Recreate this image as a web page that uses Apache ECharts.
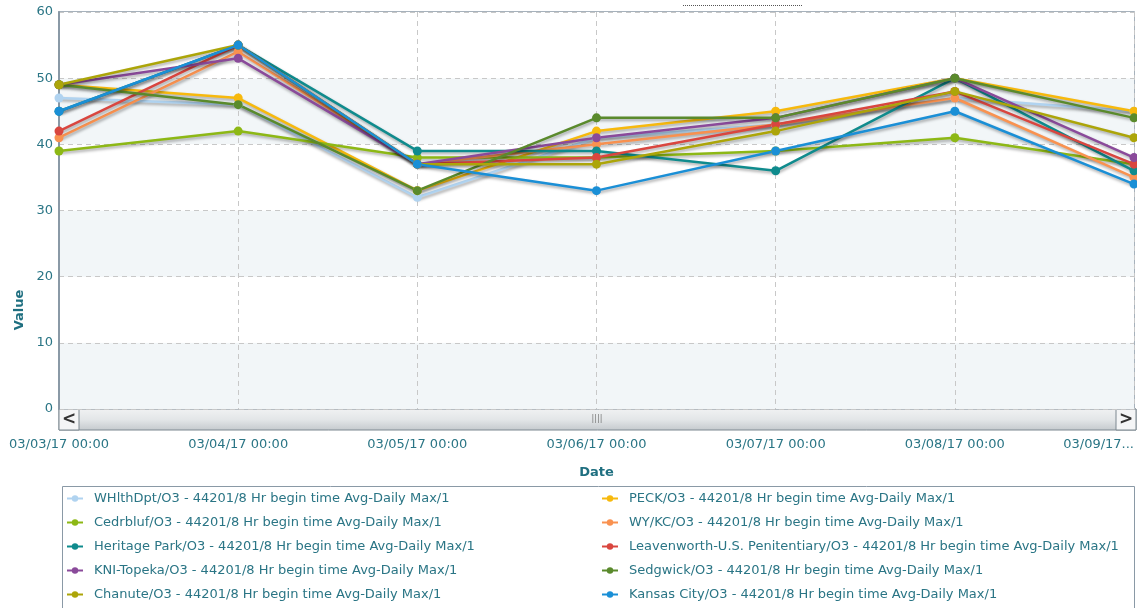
<!DOCTYPE html>
<html>
<head>
<meta charset="utf-8">
<title>O3 Daily Max</title>
<script src="https://cdn.jsdelivr.net/npm/echarts@6/dist/echarts.min.js"></script>
<style>
    html, body { margin: 0; padding: 0; background: #ffffff; }
    #chart-container { width: 1137px; height: 608px; }
</style>
</head>
<body>
<div id="chart-container"></div>
<script>
/**
 * data
 */
var dates = ['03/03/17 00:00', '03/04/17 00:00', '03/05/17 00:00', '03/06/17 00:00', '03/07/17 00:00', '03/08/17 00:00', '03/09/17 00:00'];
var suffix = '/O3 - 44201/8 Hr begin time Avg-Daily Max/1';

var whlthDpt    = [47, 46, 32, 41, 43, 47, 45];
var peck        = [49, 47, 33, 42, 45, 50, 45];
var cedrbluf    = [39, 42, 38, 38, 39, 41, 37];
var wyKc        = [41, 54, 37, 40, 43, 47, 35];
var heritage    = [45, 55, 39, 39, 36, 50, 36];
var leavenworth = [42, 55, 37, 38, 43, 48, 37];
var kniTopeka   = [49, 53, 37, 41, 44, 50, 38];
var sedgwick    = [49, 46, 33, 44, 44, 50, 44];
var chanute     = [49, 55, 37, 37, 42, 48, 41];
var kansasCity  = [45, 55, 37, 33, 39, 45, 34];

// series order (also drawing order)
var stations = ['WHlthDpt', 'PECK', 'Cedrbluf', 'WY/KC', 'Heritage Park', 'Leavenworth-U.S. Penitentiary', 'KNI-Topeka', 'Sedgwick', 'Chanute', 'Kansas City'];
var values = [whlthDpt, peck, cedrbluf, wyKc, heritage, leavenworth, kniTopeka, sedgwick, chanute, kansasCity];
var colors = ['#b0d3f0', '#f7b90d', '#8db815', '#f99250', '#0f8b8d', '#d9463f', '#8a4a9a', '#5a8a2c', '#aca509', '#1a8fd6'];

// legend columns
var leftColumn = ['WHlthDpt', 'Cedrbluf', 'Heritage Park', 'KNI-Topeka', 'Chanute'];
var rightColumn = ['PECK', 'WY/KC', 'Leavenworth-U.S. Penitentiary', 'Sedgwick', 'Kansas City'];

var yTicks = {min: 0, max: 60, interval: 10};

var textColor = '#2a7585';
var fontName = 'DejaVu Sans';

/**
 * build series
 */
var series = [];
for (var i = 0; i < stations.length; i++) {
    series.push({
        name: stations[i] + suffix,
        type: 'line',
        data: values[i],
        symbol: 'circle',
        symbolSize: 9,
        showAllSymbol: true,
        itemStyle: { color: colors[i] },
        lineStyle: {
            width: 2.5,
            color: colors[i],
            shadowColor: 'rgba(0,0,0,0.35)',
            shadowBlur: 3,
            shadowOffsetX: 1,
            shadowOffsetY: 2
        }
    });
}

/**
 * one legend per column
 */
function makeLegend(names, left) {
    return {
        left: left,
        top: 492,
        orient: 'vertical',
        padding: 0,
        itemGap: 11,
        itemWidth: 16,
        itemHeight: 8,
        data: names.map(function (n) { return n + suffix; }),
        textStyle: {
            color: textColor,
            fontSize: 13,
            fontFamily: fontName,
            padding: [0, 0, 0, 6]
        }
    };
}

var chart = echarts.init(document.getElementById('chart-container'));

var option = {
    animation: false,
    color: colors,
    textStyle: { fontFamily: fontName },
    grid: {
        left: 59,
        top: 12,
        right: 1,
        bottom: 199,
        show: true,
        backgroundColor: 'transparent',
        borderColor: '#8a99a6',
        borderWidth: 1.5
    },
    legend: [makeLegend(leftColumn, 66), makeLegend(rightColumn, 601)],
    xAxis: {
        type: 'category',
        data: dates,
        boundaryGap: false,
        name: 'Date',
        nameLocation: 'middle',
        nameGap: 57,
        nameTextStyle: { color: '#1f6f80', fontWeight: 'bold', fontSize: 13, fontFamily: fontName },
        axisLine: { show: false },
        axisTick: { show: false },
        axisLabel: {
            color: textColor,
            fontSize: 13,
            fontFamily: fontName,
            margin: 29,
            alignMaxLabel: 'right',
            formatter: function (value, index) {
                if (index == dates.length - 1) return value.slice(0, 8) + '...';
                return value;
            }
        },
        splitLine: { show: true, lineStyle: { color: '#c8c8c8', type: [5, 4], width: 1 } }
    },
    yAxis: {
        type: 'value',
        min: yTicks.min,
        max: yTicks.max,
        interval: yTicks.interval,
        axisLine: { show: true, lineStyle: { color: '#8a99a6', width: 2 } },
        axisTick: { show: false },
        axisLabel: { color: textColor, fontSize: 13, fontFamily: fontName, margin: 6 },
        splitLine: { show: true, lineStyle: { color: '#c8c8c8', type: [5, 4], width: 1 } },
        splitArea: { show: true, areaStyle: { color: ['#f2f6f8', '#ffffff'] } }
    },
    graphic: [
        // y axis title
        {
            type: 'text', x: 20, y: 310, rotation: Math.PI / 2,
            style: { x: 0, y: 0, text: 'Value', fill: '#1f6f80', font: 'bold 13px "DejaVu Sans"', textAlign: 'center', textVerticalAlign: 'middle' }
        },
        // legend frame
        {
            type: 'rect', z: -1,
            shape: { x: 62.5, y: 486.5, width: 1072, height: 130 },
            style: { fill: '#ffffff', stroke: '#8a99a6', lineWidth: 1 }
        },
        // dotted focus mark at the top
        {
            type: 'line', z: 10,
            shape: { x1: 683, y1: 5.5, x2: 803, y2: 5.5 },
            style: { stroke: '#555', lineWidth: 1, lineDash: [1, 1] }
        },
        // scrollbar
        {
            type: 'group', z: 100,
            children: [
                {
                    type: 'rect',
                    shape: { x: 59, y: 409, width: 1077, height: 21 },
                    style: {
                        fill: new echarts.graphic.LinearGradient(0, 0, 0, 1, [
                            { offset: 0, color: '#f1f2f3' },
                            { offset: 0.5, color: '#e3e6e8' },
                            { offset: 1, color: '#c4c9cd' }
                        ]),
                        stroke: '#7d8890', lineWidth: 1
                    }
                },
                {
                    type: 'rect',
                    shape: { x: 59, y: 409, width: 20, height: 21 },
                    style: { fill: '#f4f5f6', stroke: '#7d8890', lineWidth: 1 }
                },
                {
                    type: 'rect',
                    shape: { x: 1116, y: 409, width: 20, height: 21 },
                    style: { fill: '#f4f5f6', stroke: '#7d8890', lineWidth: 1 }
                },
                {
                    type: 'text',
                    style: { x: 69, y: 420, text: '<', fill: '#333', font: 'bold 17px "DejaVu Sans"', textAlign: 'center', textVerticalAlign: 'middle' }
                },
                {
                    type: 'text',
                    style: { x: 1126, y: 420, text: '>', fill: '#333', font: 'bold 17px "DejaVu Sans"', textAlign: 'center', textVerticalAlign: 'middle' }
                },
                {
                    type: 'text',
                    style: { x: 597, y: 419, text: '||||', fill: '#777', font: '8px "DejaVu Sans"', textAlign: 'center', textVerticalAlign: 'middle' }
                }
            ]
        }
    ],
    series: series
};
chart.setOption(option);
</script>
</body>
</html>
